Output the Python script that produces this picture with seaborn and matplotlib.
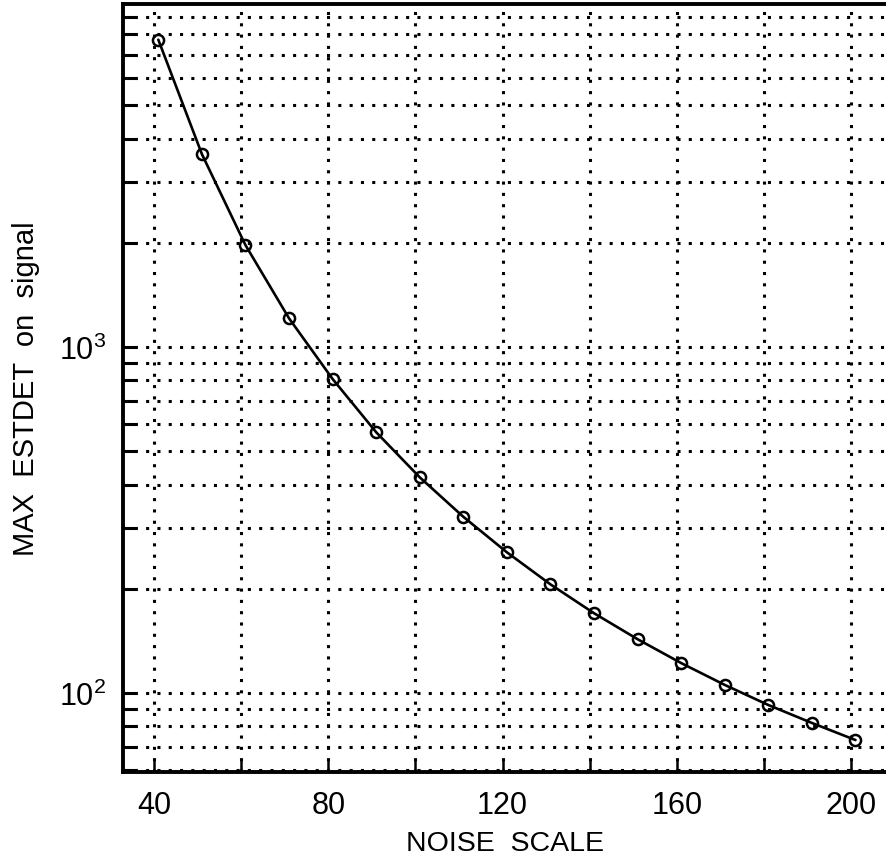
import numpy as np
import pandas as pd
import matplotlib
matplotlib.use("Agg")
import matplotlib.pyplot as plt
from matplotlib.ticker import FixedLocator, LogLocator, NullFormatter, FuncFormatter
import seaborn as sns

# noise scale settings and the maximum ESTDET found on the signal
noise_scale = [41, 51, 61, 71, 81, 91, 101, 111, 121, 131, 141, 151, 161, 171, 181, 191, 201]
max_estdet = [7730, 3610, 1970, 1210, 808, 567, 420, 323, 255, 206, 170, 143, 122, 105.5, 92.3, 81.9, 73.1]

x_major = [40, 80, 120, 160, 200]
x_minor = [60, 100, 140, 180]

df = pd.DataFrame({"noise": noise_scale, "estdet": max_estdet})

sns.set_style("white")
plt.rcParams["font.family"] = ["Liberation Sans", "DejaVu Sans"]
plt.rcParams["mathtext.fontset"] = "custom"
plt.rcParams["mathtext.rm"] = "Liberation Sans"
plt.rcParams["mathtext.it"] = "Liberation Sans"
plt.rcParams["mathtext.bf"] = "Liberation Sans"

W, H = 886, 862
fig = plt.figure(figsize=(W / 100, H / 100), dpi=100)
left, right, top, bottom = 123, 886, 5, 773
ax = fig.add_axes([left / W, 1 - bottom / H, (right - left) / W, (bottom - top) / H])

sns.lineplot(data=df, x="noise", y="estdet", ax=ax, color="black", linewidth=1.9,
             marker="o", markersize=8, markerfacecolor="none",
             markeredgecolor="black", markeredgewidth=1.8)

ax.set_yscale("log")
ax.set_xlim(32.9, 208.0)
ax.set_ylim(59.1, 9800)

# x ticks every 20, labelled every 40
ax.xaxis.set_major_locator(FixedLocator(x_major))
ax.xaxis.set_minor_locator(FixedLocator(x_minor))
ax.set_xticklabels([str(v) for v in x_major])

ax.yaxis.set_major_locator(LogLocator(base=10, numticks=10))
ax.yaxis.set_minor_locator(LogLocator(base=10, subs=np.arange(2, 10), numticks=20))
ax.yaxis.set_minor_formatter(NullFormatter())
ax.yaxis.set_major_formatter(FuncFormatter(lambda v, p: r"$10^{%d}$" % round(np.log10(v))))

grid_style = dict(color="black", linestyle=(0, (1.0, 2.7)), linewidth=2.2)
ax.grid(True, which="both", axis="both", **grid_style)

ax.tick_params(axis="x", which="both", direction="in", length=9, width=1.8,
               labelsize=22, pad=13, bottom=True, top=False, colors="black")
ax.tick_params(axis="y", which="both", direction="in", length=10, width=2.2,
               labelsize=22, pad=12, left=True, right=False, colors="black")

for side in ["left", "bottom", "top"]:
    ax.spines[side].set_visible(True)
    ax.spines[side].set_color("black")
    ax.spines[side].set_linewidth(2.8)
ax.spines["right"].set_visible(False)

ax.set_xlabel("NOISE  SCALE", fontsize=20.5, labelpad=7, color="black")
ax.set_ylabel("MAX  ESTDET  on  signal", fontsize=21, labelpad=14, color="black")

fig.savefig("out.png", dpi=100, facecolor="white")
